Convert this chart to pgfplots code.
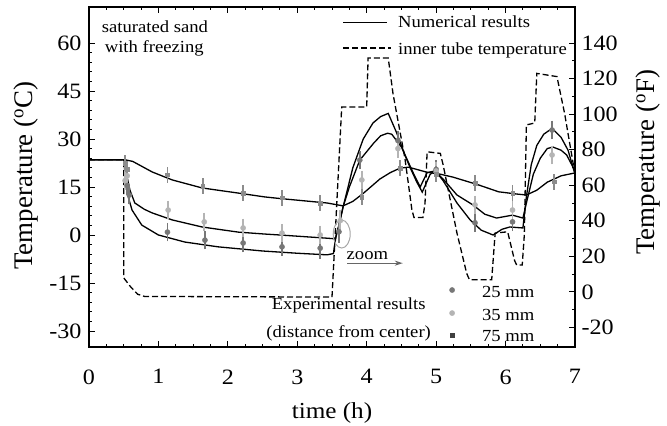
\documentclass[border=0pt]{standalone}
\usepackage{pgfplots}
\pgfplotsset{compat=1.18}
\usetikzlibrary{arrows.meta}
\usepackage{fontspec}
\setmainfont{Liberation Serif}[FakeStretch=1.1]
\newfontfamily\labelfont{Liberation Serif}
\newcommand\tk{\fontsize{22}{22}\selectfont}
\newcommand\an{\fontsize{17}{20}\selectfont}

\definecolor{c25}{HTML}{777777}
\definecolor{c35}{HTML}{B4B4B4}
\definecolor{c75}{HTML}{8C8C8C}

\tikzset{
  numline/.style={black, line width=1.3bp},
  tubeline/.style={black, line width=1.3bp, dash pattern=on 6bp off 3bp},
}
\pgfplotsset{
  expt/.style={only marks, mark size=2.6bp,
    error bars/y dir=both, error bars/y explicit,
    error bars/error bar style={line width=1.6bp},
    error bars/error mark options={line width=1.8bp, mark size=4.5bp}},
}

\begin{document}
\begin{tikzpicture}
\begin{axis}[
  at={(0,0)}, anchor=south west,
  scale only axis, width=486bp, height=340bp,
  xmin=0, xmax=7, ymin=-35, ymax=71.25,
  xtick={0,...,7}, minor x tick num=3,
  ytick={-30,-15,...,60}, minor y tick num=4,
  xtick pos=both, ytick pos=left,
  tick align=inside,
  major tick length=6bp, minor tick length=3.5bp,
  every tick/.style={black, line width=0.9bp},
  axis line style={line width=1.3bp},
  tick label style={font=\tk},
  /pgf/number format/assume math mode=true,
  xticklabel style={yshift=-19bp},
  yticklabel style={xshift=-4bp},
  clip=false,
]
% inner tube temperature
\addplot[tubeline] coordinates {
  (0,23.5)(0.5,23.5)(0.5,-13.4)(0.6,-16.2)(0.7,-18.5)(0.8,-19.2)(3.5,-19.4)
  (3.64,40)(4.0,40)(4.02,55.3)(4.31,55.3)(4.38,44)(4.55,24)(4.65,8)(4.68,5.5)
  (4.81,5.5)(4.84,10)(4.87,26)(5.06,25.5)(5.1,22)(5.3,0.6)(5.44,-12)(5.48,-14)
  (5.8,-14)(5.85,0.6)(6.03,1)(6.13,-8)(6.16,-9.4)(6.24,-9.4)(6.27,0)(6.3,34.4)
  (6.42,35)(6.45,50.5)(6.74,49.5)(6.85,38)(7.0,19)
};
% numerical, 25 mm
\addplot[numline] coordinates {
  (0,23.5)(0.5,23.5)(0.52,19)(0.55,13)(0.62,7.8)(0.76,3.1)(1.0,0)(1.38,-2.2)
  (1.86,-3.7)(2.5,-5)(3.0,-5.7)(3.43,-6.2)(3.52,-5.8)(3.56,0)(3.6,3)(3.66,8.8)
  (3.8,21)(3.95,30)(4.09,35)(4.2,37)(4.31,38)(4.43,32)(4.55,25)(4.62,21.3)
  (4.72,16.6)(4.8,13.4)(4.91,18.8)(4.98,20.3)(5.1,17)(5.3,10)(5.49,4.7)
  (5.65,1.5)(5.82,0)(5.95,1.8)(6.06,2.5)(6.25,2.2)(6.3,12)(6.37,22)(6.45,28)
  (6.55,31.5)(6.67,33.3)(6.8,30.5)(6.9,26.5)(7.0,19)
};
% numerical, 35 mm
\addplot[numline] coordinates {
  (0,23.5)(0.5,23.5)(0.55,18)(0.59,14)(0.66,10)(0.8,8)(0.91,6.9)(1.2,4.7)
  (1.63,2.5)(2.15,0.9)(2.53,0.3)(2.75,0)(3.43,-1)(3.55,-1.2)(3.6,3)(3.66,8.8)
  (3.75,15)(3.9,23.4)(4.1,28.7)(4.2,31)(4.3,31.8)(4.36,31.5)(4.5,27.5)
  (4.67,19.4)(4.77,15)(4.87,19.5)(4.98,20)(5.1,17.5)(5.3,12.5)(5.53,9.4)
  (5.7,6.5)(5.87,5.3)(6.1,6.2)(6.25,5.3)(6.3,10)(6.4,19)(6.5,24)(6.6,27)
  (6.68,27.5)(6.8,26.5)(6.88,25)(7,20)
};
% numerical, 75 mm
\addplot[numline] coordinates {
  (0,23.5)(0.52,23.5)(0.63,23)(0.91,19.7)(1.2,17.2)(1.63,14.7)(2.15,13.1)
  (2.53,11.9)(2.75,11.4)(3.43,10)(3.66,9.1)(3.8,10.5)(3.95,13)(4.19,17.5)
  (4.34,19.5)(4.48,20.9)(4.6,21.2)(4.72,20.5)(4.87,19.6)(5.06,19)(5.24,18.1)
  (5.59,15.8)(5.9,13.5)(6.16,12.8)(6.3,12.5)(6.45,14)(6.6,16.5)(6.8,18.5)(7,19.4)
};
% experimental, 25 mm
\addplot[expt, mark=*, c25, mark options={fill=c25}] coordinates {
  (0.55,15.5)+-(0,1.5) (0.58,12.5)+-(0,1.5) (1.13,0.9)+-(0,1.5) (1.67,-1.6)+-(0,1.5)
  (2.22,-2.5)+-(0,1.5) (2.78,-3.7)+-(0,1.5) (3.33,-4.1)+-(0,2) (3.6,1)+-(0,2)
  (3.9,23.4)+-(0,1.5) (4.45,29.5)+-(0,1.5) (5.0,20.5)+-(0,1.5) (5.56,3.8)+-(0,1.5)
  (6.1,4.1)+-(0,1.5) (6.67,32.8)+-(0,1.5)
};
% experimental, 35 mm
\addplot[expt, mark=*, c35, mark options={fill=c35}] coordinates {
  (0.52,17)+-(0,1.5) (0.55,18.5)+-(0,1.5) (1.14,7.8)+-(0,1.5) (1.66,4.1)+-(0,1.5)
  (2.22,2.2)+-(0,1.5) (2.78,0.6)+-(0,1.5) (3.33,0)+-(0,1.5) (3.62,4.5)+-(0,2)
  (3.93,17.2)+-(0,1.5) (4.45,27)+-(0,1.5) (5.0,20)+-(0,1.5) (5.56,9.4)+-(0,1.5)
  (6.1,7.8)+-(0,1.5) (6.67,25)+-(0,1.5)
};
% experimental, 75 mm
\addplot[expt, mark=square*, mark size=1.8bp, c75, mark options={fill=c75}] coordinates {
  (0.52,22.5)+-(0,1) (0.55,20.5)+-(0,1) (1.13,18.8)+-(0,1) (1.64,15.3)+-(0,1)
  (2.22,13.1)+-(0,1) (2.78,11.6)+-(0,1) (3.33,10)+-(0,1) (3.93,11.9)+-(0,1)
  (4.48,20.9)+-(0,1) (5.0,19)+-(0,1) (5.56,16.2)+-(0,1) (6.1,13.1)+-(0,1)
  (6.7,16.6)+-(0,1)
};
% key marks for the experimental series
\addplot[only marks, mark=*, mark size=2.6bp, c25] coordinates {(5.23,-17.2)};
\addplot[only marks, mark=*, mark size=2.6bp, c35] coordinates {(5.23,-24.4)};
\addplot[only marks, mark=square*, mark size=1.6bp, black!75] coordinates {(5.23,-31.3)};

% texts
\node[font=\an, anchor=base] at (axis cs:0.95,63.4) {saturated sand};
\node[font=\an, anchor=base] at (axis cs:0.94,56.9) {with freezing};
\draw[numline] (axis cs:3.66,66.3) -- (axis cs:4.29,66.3);
\draw[tubeline] (axis cs:3.66,58.4) -- (axis cs:4.35,58.4);
\node[font=\an, anchor=base west, inner sep=0pt] at (axis cs:4.45,64.7) {Numerical results};
\node[font=\an, anchor=base west, inner sep=0pt] at (axis cs:4.45,56.25) {inner tube temperature};
\node[font=\an, anchor=base] at (axis cs:3.74,-23.4) {Experimental results};
\node[font=\an, anchor=base] at (axis cs:3.74,-31.9) {(distance from center)};
\node[font=\an, anchor=base west, inner sep=0pt] at (axis cs:5.66,-19.4) {25 mm};
\node[font=\an, anchor=base west, inner sep=0pt] at (axis cs:5.66,-26.6) {35 mm};
\node[font=\an, anchor=base west, inner sep=0pt] at (axis cs:5.66,-33.4) {75 mm};
\draw[gray!70, line width=1bp] (axis cs:3.64,0.3) ellipse [x radius=8.5bp, y radius=14bp];
\node[font=\an, anchor=base] at (axis cs:4.01,-7.8) {zoom};
\draw[-{Stealth[length=8bp,width=5bp]}, black!60, line width=1.3bp] (axis cs:3.72,-8.8) -- (axis cs:4.52,-8.8);

\node[rotate=90, font={\labelfont\fontsize{27}{30}\selectfont}] at (axis description cs:-0.13,0.504) {Temperature (\textsuperscript{o}C)};
\node[font=\fontsize{23}{23}\selectfont, anchor=base] at (axis description cs:0.5,-0.209) {time (h)};
\node[rotate=90, font={\labelfont\fontsize{27}{30}\selectfont}] at (axis description cs:1.15,0.543) {Temperature (\textsuperscript{o}F)};
\end{axis}

\begin{axis}[
  at={(0,0)}, anchor=south west,
  scale only axis, width=486bp, height=340bp,
  xmin=0, xmax=7, ymin=-31, ymax=160.25,
  hide x axis,
  ytick={-20,0,...,140}, minor y tick num=1,
  ytick pos=right, yticklabel pos=right,
  tick align=inside,
  major tick length=6bp, minor tick length=3.5bp,
  every tick/.style={black, line width=0.9bp},
  axis line style={line width=1.3bp},
  tick label style={font=\tk},
  /pgf/number format/assume math mode=true,
  yticklabel style={xshift=3bp},
]
\addplot[draw=none] coordinates {(0,0)};
\end{axis}
\pgfresetboundingbox
\path[use as bounding box] (-89bp,-79bp) rectangle (578bp,347bp);
\end{tikzpicture}
\end{document}
